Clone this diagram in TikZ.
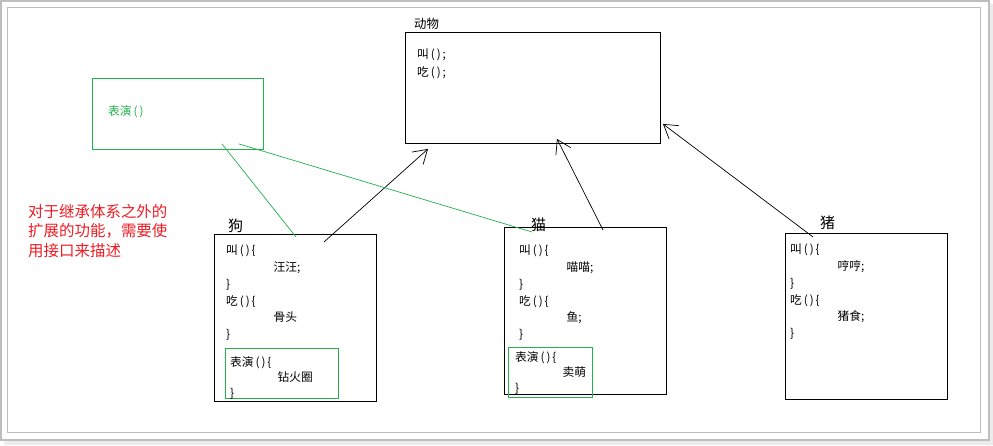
\documentclass[tikz,border=0pt]{standalone}
\usepackage{fontspec}
\setmainfont{Noto Sans CJK SC}
\usetikzlibrary{arrows.meta, positioning, calc}
\definecolor{paintgreen}{RGB}{34,177,76}
\definecolor{paintred}{RGB}{237,28,36}
\definecolor{framegray}{RGB}{190,190,190}
\newcommand{\tabin}{\hspace*{1.42cm}}
\newcommand{\pp}{\,(\,)\,}
\tikzset{
    % class boxes
    classbox/.style={rectangle, draw=black, line width=0.8pt, anchor=north west, inner sep=0pt},
    ifacebox/.style={rectangle, draw=paintgreen, line width=0.8pt, anchor=north west, inner sep=0pt},
    classtitle/.style={anchor=west, inner sep=0pt, font=\fontsize{12.8}{15}\selectfont},
    % texts
    codetext/.style={anchor=north west, inner sep=0pt, align=left, font=\fontsize{10}{14.3}\selectfont},
    showtext/.style={anchor=north west, inner sep=0pt, align=left, font=\fontsize{10}{13.5}\selectfont},
    notetext/.style={anchor=north west, inner sep=0pt, align=left, text=paintred,
                 font=\fontsize{13.2}{16.6}\selectfont},
    % connectors
    inharrow/.style={-{Straight Barb[length=4mm, width=5mm]}, line width=0.6pt},
    ifaceline/.style={paintgreen, line width=0.6pt},
}
\begin{document}
\begin{tikzpicture}[x=0.03cm, y=-0.03cm]
\fill[white] (0,0) rectangle (993,445);
\useasboundingbox (0,0) rectangle (993,445);
% frame
\fill[gray!15] (990,4) rectangle (993,445);
\fill[gray!15] (4,441) rectangle (993,445);
\draw[framegray, line width=1.2pt] (1,1) rectangle (989,440);
\draw[framegray, line width=0.9pt] (7.5,7.5) rectangle (980.5,432.5);

% base class
\node[classbox, minimum width=7.65cm, minimum height=3.33cm] (animal) at (405,32) {};
\node[classtitle, font=\fontsize{10.6}{12}\selectfont] (animaltitle) at (414,24) {动物};
\node[codetext] (animalcode) at (417,49) {叫\pp;\\[1pt]吃\pp;};

% interface
\node[ifacebox, minimum width=5.13cm, minimum height=2.13cm] (iface) at (92,78) {};
\node[codetext, text=paintgreen] (ifacecode) at (108,105) {表演\pp};

\node[notetext] (note) at (28,204) {对于继承体系之外的\\扩展的功能，需要使\\用接口来描述};

% dog
\node[classbox, minimum width=4.86cm, minimum height=5.01cm] (dog) at (214,234) {};
\node[classtitle] (dogtitle) at (228,226) {狗};
\node[codetext] (dogcode) at (226,245) {叫\pp\{\\\tabin 汪汪;\\\}\\吃\pp\{\\\tabin 骨头\\\}};
\node[ifacebox, minimum width=3.39cm, minimum height=1.5cm] (dogshow) at (225,348) {};
\node[showtext] (dogshowcode) at (230,356) {表演\pp\{\\\tabin 钻火圈\\\}};

% cat
\node[classbox, minimum width=4.86cm, minimum height=5.01cm] (cat) at (504,227) {};
\node[classtitle] (cattitle) at (531,225) {猫};
\node[codetext] (catcode) at (519,245) {叫\pp\{\\\tabin 喵喵;\\\}\\吃\pp\{\\\tabin 鱼;\\\}};
\node[ifacebox, minimum width=2.52cm, minimum height=1.5cm] (catshow) at (508,347) {};
\node[showtext] (catshowcode) at (515,351) {表演\pp\{\\\tabin 卖萌\\\}};

% pig
\node[classbox, minimum width=4.86cm, minimum height=4.98cm] (pig) at (785,233) {};
\node[classtitle] (pigtitle) at (820,223) {猪};
\node[codetext] (pigcode) at (790,244) {叫\pp\{\\\tabin 哼哼;\\\}\\吃\pp\{\\\tabin 猪食;\\\}};

% connector ends
\coordinate (dogtail) at ($(dog.north west)+(110,8)$);
\coordinate (dogtip)  at ($(animal.south west)+(23,5)$);
\coordinate (cattail) at ($(cat.north west)+(99,3)$);
\coordinate (cattip)  at ($(animal.south west)+(152,-5)$);
\coordinate (pigtail) at ($(pig.north west)+(28,4)$);
\coordinate (pigtip)  at ($(animal.south east)+(2,-20)$);
\coordinate (ifaceA)  at ($(iface.south west)+(130,-6)$);
\coordinate (ifaceB)  at ($(iface.south west)+(147,-6)$);
\coordinate (dogshowend) at ($(dog.north west)+(82,3)$);
\coordinate (catshowend) at ($(cat.north west)+(28,5)$);

\draw[inharrow] (dogtail) -- (dogtip);
\draw[inharrow] (cattail) -- (cattip);
\draw[inharrow] (pigtail) -- (pigtip);
\draw[ifaceline] (ifaceA) -- (dogshowend);
\draw[ifaceline] (ifaceB) -- (catshowend);
\end{tikzpicture}
\end{document}
